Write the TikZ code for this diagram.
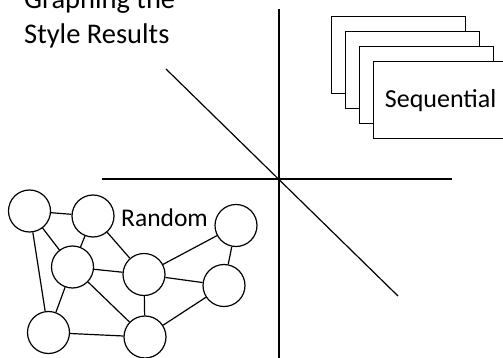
\documentclass[tikz,border=0pt]{standalone}
\usepackage{fontspec}
\setmainfont{Carlito}

\begin{document}
\begin{tikzpicture}[x=1pt, y=-1pt,
    axis/.style={line width=1.8pt, -},
    slash/.style={line width=1.2pt, -},
    card/.style={rectangle, draw=black, line width=1.2pt, fill=white,
        minimum width=134pt, minimum height=77pt, inner sep=0pt,
        anchor=north west, font=\fontsize{26}{31}\selectfont},
    vertex/.style={circle, draw=black, line width=1.2pt, fill=white,
        minimum size=42pt, inner sep=0pt},
    edge/.style={line width=1.2pt, -}
]
    \useasboundingbox (0,0) rectangle (503,358);
    % title
    \node[anchor=base west, align=left, inner sep=0pt,
        font=\fontsize{28.5}{35}\selectfont] (title) at (24,44)
        {Graphing the\\Style Results};
    % axes
    \coordinate (top) at (279,9);
    \coordinate (bottom) at (279,360);
    \coordinate (left) at (102,179);
    \coordinate (right) at (452,179);
    \coordinate (ul) at (166,69);
    \coordinate (lr) at (398,296);
    \draw[axis] (top) -- (bottom);
    \draw[axis] (left) -- (right);
    \draw[slash] (ul) -- (lr);
    % sequential
    \node[card] (s1) at (331,16) {};
    \node[card] (s2) at (345,31) {};
    \node[card] (s3) at (359,46) {};
    \node[card] (s4) at (373,61) {Sequential};
    % random
    \node[font=\fontsize{25.5}{30}\selectfont, anchor=base west, inner sep=0pt]
        (rnd) at (121,226.5) {Random};
    \node[vertex] (a) at (29.5,211) {};
    \node[vertex] (b) at (93,216) {};
    \node[vertex] (c) at (72.5,267) {};
    \node[vertex] (d) at (144,274.5) {};
    \node[vertex] (e) at (236,225.5) {};
    \node[vertex] (f) at (224,285.5) {};
    \node[vertex] (g) at (48.5,332.5) {};
    \node[vertex] (h) at (145,337) {};
    \draw[edge] (a) -- (b);
    \draw[edge] (a) -- (c);
    \draw[edge] (a) -- (g);
    \draw[edge] (b) -- (c);
    \draw[edge] (b) -- (d);
    \draw[edge] (c) -- (d);
    \draw[edge] (c) -- (g);
    \draw[edge] (c) -- (h);
    \draw[edge] (d) -- (h);
    \draw[edge] (d) -- (e);
    \draw[edge] (d) -- (f);
    \draw[edge] (e) -- (f);
    \draw[edge] (f) -- (h);
    \draw[edge] (g) -- (h);
\end{tikzpicture}
\end{document}
